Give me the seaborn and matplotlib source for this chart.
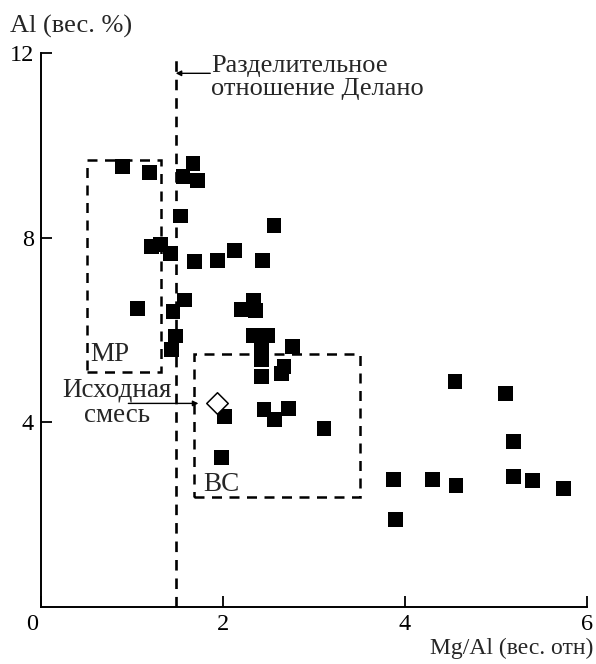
import matplotlib
matplotlib.use("Agg")
import matplotlib.pyplot as plt
import seaborn as sns
import pandas as pd
from matplotlib.patches import Rectangle
from matplotlib.transforms import ScaledTranslation

# ---- data ----
mg_al = [0.90, 1.19, 1.67, 1.56, 1.72, 1.53, 2.56, 1.21, 1.31, 1.42,
         1.69, 1.94, 2.13, 2.43, 1.06, 1.58, 1.45, 2.20, 2.34, 2.36,
         1.48, 1.43, 2.34, 2.49, 2.42, 2.42, 2.42, 2.76, 2.67, 2.64,
         2.02, 2.45, 2.57, 2.72, 3.11, 1.98, 4.55, 5.10, 5.19, 3.87,
         4.30, 4.56, 5.19, 5.40, 5.74, 3.90]
al = [9.55, 9.41, 9.60, 9.33, 9.23, 8.47, 8.27, 7.80, 7.86, 7.65,
      7.48, 7.50, 7.73, 7.50, 6.47, 6.65, 6.40, 6.45, 6.65, 6.43,
      5.87, 5.58, 5.89, 5.89, 5.64, 5.35, 4.99, 5.64, 5.20, 5.06,
      4.12, 4.28, 4.06, 4.30, 3.87, 3.24, 4.88, 4.63, 3.59, 2.77,
      2.77, 2.63, 2.82, 2.74, 2.57, 1.90]
mix_x = [1.93]
mix_y = [4.41]
delano = 1.48
mp_box = (0.50, 5.08, 1.315, 9.69)   # x0, y0, x1, y1
bc_box = (1.685, 2.39, 3.50, 5.48)
x_ticks = [0, 2, 4, 6]
y_ticks = [4, 8, 12]

sns.set_style("ticks")
plt.rcParams['font.family'] = ['Liberation Serif', 'DejaVu Serif']

fig = plt.figure(figsize=(5.96, 6.64), dpi=100)
ax = fig.add_axes([41/596, 1 - 607/664, (587 - 41)/596, (607 - 53)/664])

df = pd.DataFrame({"x": mg_al, "y": al})
sns.scatterplot(data=df, x="x", y="y", marker="s", s=115, color="black",
                edgecolor="none", linewidth=0, ax=ax, zorder=3)
sns.scatterplot(x=mix_x, y=mix_y, marker="D", s=120, facecolor="white",
                edgecolor="black", linewidth=1.1, ax=ax, zorder=5)

ax.set_xlim(0, 6)
ax.set_ylim(0, 12)
ax.set_xticks(x_ticks)
ax.set_yticks(y_ticks)
ax.set_xticklabels([str(t) for t in x_ticks])
ax.set_yticklabels([str(t) for t in y_ticks])
ax.tick_params(direction="in", length=8, width=1.3, labelsize=17.5, pad=5, colors="black")
# corner "0" label sits a bit left of the origin
lbl0 = ax.get_xticklabels()[0]
lbl0.set_transform(lbl0.get_transform() + ScaledTranslation(-0.09, 0, fig.dpi_scale_trans))
for s in ["top", "right"]:
    ax.spines[s].set_visible(False)
for s in ["left", "bottom"]:
    ax.spines[s].set_linewidth(1.4)
    ax.spines[s].set_color("black")
ax.set_xlabel("")
ax.set_ylabel("")

# Delano ratio line
ax.plot([delano, delano], [0, 12], color="black", lw=1.9, ls=(0, (4, 3)), zorder=2)

# dashed boxes
for (x0, y0, x1, y1) in (mp_box, bc_box):
    ax.add_patch(Rectangle((x0, y0), x1 - x0, y1 - y0, fill=False, ec="black",
                           lw=1.8, ls=(0, (4, 3)), zorder=2))

ax.text(0.76, 5.46, "MP", fontsize=19.5, ha="center", va="center")
ax.text(1.98, 2.66, "BC", fontsize=19.5, ha="center", va="center")

# annotations
ax.annotate("", xy=(delano, 11.56), xytext=(1.86, 11.56),
            arrowprops=dict(arrowstyle="-|>", color="black", lw=1.0,
                            mutation_scale=8, shrinkA=0, shrinkB=0))
ax.text(1.87, 11.47, "Разделительное\nотношение Делано", fontsize=19,
        ha="left", va="center", linespacing=1.02)

ax.annotate("", xy=(1.73, 4.41), xytext=(0.96, 4.41),
            arrowprops=dict(arrowstyle="-|>", color="black", lw=1.0,
                            mutation_scale=8, shrinkA=0, shrinkB=0))
ax.text(0.84, 4.42, "Исходная\nсмесь", fontsize=19.5, ha="center", va="center",
        linespacing=1.05)

fig.text(10/596, 1 - 26/664, "Al (вес. %)", fontsize=19, ha="left", va="center")
fig.text(593/596, 1 - 648/664, "Mg/Al (вес. отн)", fontsize=17, ha="right", va="center")

fig.savefig("out.png", dpi=100)
